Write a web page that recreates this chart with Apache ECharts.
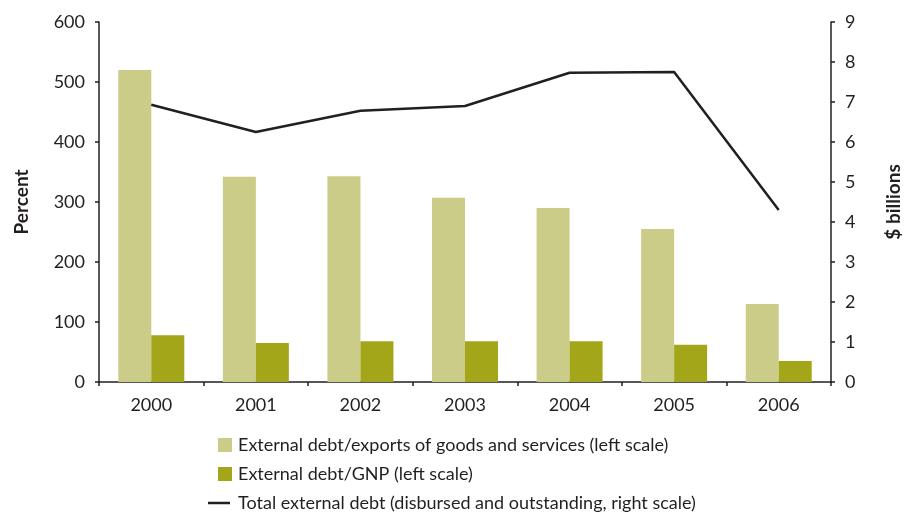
<!DOCTYPE html>
<html>
<head>
<meta charset="utf-8">
<script src="https://cdn.jsdelivr.net/npm/echarts@6/dist/echarts.min.js"></script>
<style>
  html, body { margin: 0; padding: 0; background: #fff; }
  #chart { width: 911px; height: 514px; }
</style>
</head>
<body>
<div id="chart"></div>
<script>
// Years on the category axis
const years = ['2000', '2001', '2002', '2003', '2004', '2005', '2006'];
// External debt as a percentage of exports of goods and services (left scale)
const debtToExports = [520, 342, 343, 307, 290, 255, 130];
// External debt as a percentage of GNP (left scale)
const debtToGNP = [78, 65, 68, 68, 68, 62, 35];
// Total external debt, disbursed and outstanding, $ billions (right scale)
const totalDebt = [6.93, 6.25, 6.78, 6.9, 7.73, 7.75, 4.3];

const FONT = 'Lato';
const INK = '#231f20';
const LABEL_SIZE = 18;

const names = {
  exports: 'External debt/exports of goods and services (left scale)',
  gnp: 'External debt/GNP (left scale)',
  total: 'Total external debt (disbursed and outstanding, right scale)'
};

const axisCommon = {
  axisLine: { show: true, lineStyle: { color: INK, width: 1.5 } },
  axisTick: { show: true, length: 4, lineStyle: { color: INK, width: 1.5 } },
  splitLine: { show: false },
  axisLabel: { color: INK, fontFamily: FONT, fontSize: LABEL_SIZE, margin: 14 }
};

const nameStyle = { fontFamily: FONT, fontSize: 19, fontWeight: 'bold', color: INK };

const chart = echarts.init(document.getElementById('chart'), null, { renderer: 'canvas' });
chart.setOption({
  animation: false,
  textStyle: { fontFamily: FONT, color: INK },
  grid: { left: 99, right: 72, top: 22, bottom: 132, containLabel: false },
  legend: [
    {
      orient: 'vertical', left: 213, top: 431,
      itemWidth: 14, itemHeight: 14, itemGap: 11,
      icon: 'rect',
      textStyle: { fontFamily: FONT, fontSize: LABEL_SIZE, color: INK, padding: [0, 0, 0, 1] },
      data: [names.exports, names.gnp]
    },
    {
      orient: 'vertical', left: 203, top: 489,
      itemWidth: 22, itemHeight: 14,
      textStyle: { fontFamily: FONT, fontSize: LABEL_SIZE, color: INK, padding: [0, 0, 0, 3] },
      data: [{ name: names.total, icon: 'path://M0,6 L22,6 L22,8.5 L0,8.5 Z' }]
    }
  ],
  xAxis: {
    type: 'category',
    data: years,
    ...axisCommon
  },
  yAxis: [
    {
      type: 'value', min: 0, max: 600, interval: 100,
      name: 'Percent', nameLocation: 'middle', nameGap: 68,
      nameTextStyle: nameStyle,
      ...axisCommon
    },
    {
      type: 'value', min: 0, max: 9, interval: 1, position: 'right',
      name: '$ billions', nameLocation: 'middle', nameGap: 53, nameRotate: 90,
      nameTextStyle: nameStyle,
      ...axisCommon
    }
  ],
  series: [
    {
      name: names.exports, type: 'bar', yAxisIndex: 0,
      data: debtToExports, barWidth: 33, barGap: '0%',
      itemStyle: { color: '#cbcc88' }
    },
    {
      name: names.gnp, type: 'bar', yAxisIndex: 0,
      data: debtToGNP, barWidth: 33, barGap: '0%',
      itemStyle: { color: '#a2a618' }
    },
    {
      name: names.total, type: 'line', yAxisIndex: 1,
      data: totalDebt, symbol: 'none', z: 5,
      lineStyle: { color: INK, width: 2.5 },
      itemStyle: { color: INK }
    }
  ]
});
</script>
</body>
</html>
